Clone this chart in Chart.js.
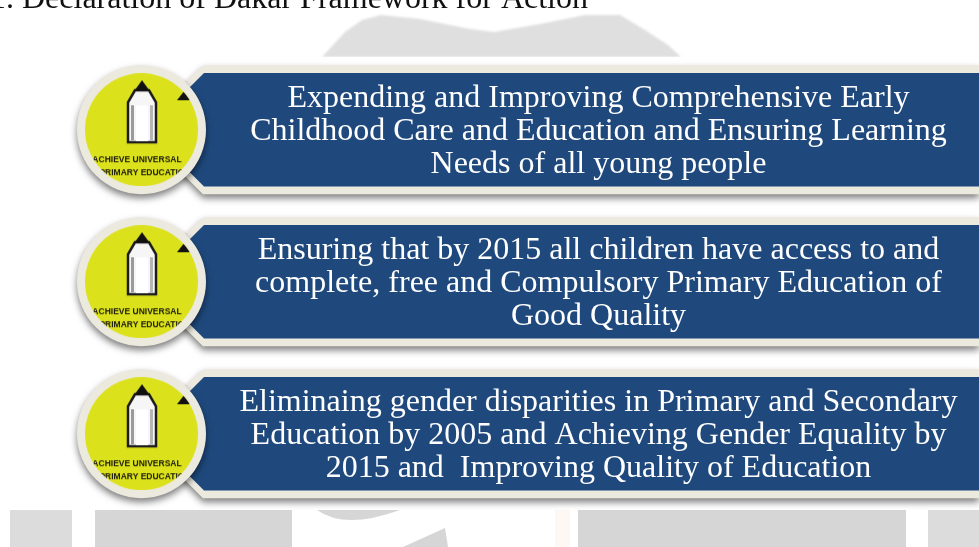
<!DOCTYPE html>
<html lang="en">

<head>
    <meta charset="UTF-8">
    <title>Dakar Framework for Action</title>
    <script src="https://cdn.jsdelivr.net/npm/chart.js"></script>
    <style>
        body { margin: 0; background: #fff; }
        canvas { display: block; }
    </style>
</head>

<body>
    <canvas id="myChart" width="979" height="547"></canvas>
</body>

</html>
<script>
    // Dados do quadro
    const categories = ['Goal 1', 'Goal 2', 'Goal 3'];
    const frameStart = [181, 181, 181];
    const bannerStart = [190, 190, 190];
    const bannerEnd = [979, 979, 979];
    const badgeX = [141.5, 141.5, 141.5];
    const goalLines = [
        ['Expending and Improving Comprehensive Early', 'Childhood Care and Education and Ensuring Learning', 'Needs of all young people'],
        ['Ensuring that by 2015 all children have access to and', 'complete, free and Compulsory Primary Education of', 'Good Quality'],
        ['Eliminaing gender disparities in Primary and Secondary', 'Education by 2005 and Achieving Gender Equality by', '2015 and  Improving Quality of Education']
    ];
    const heading = '1. Declaration of Dakar Framework for Action';
    const badgeLines = ['ACHIEVE UNIVERSAL', 'PRIMARY EDUCATION'];

    const serif = '"Liberation Serif", "Times New Roman", serif';
    const cream = '#ece9df';
    const blue = '#1f497d';

    // Desenho do selo amarelo com o lapis
    function makeBadge() {
        const c = document.createElement('canvas');
        c.width = 113;
        c.height = 113;
        const g = c.getContext('2d');
        g.beginPath();
        g.arc(56.5, 56.5, 56.5, 0, Math.PI * 2);
        g.clip();
        g.fillStyle = '#dbe11a';
        g.fillRect(0, 0, 113, 113);
        g.filter = 'blur(0.7px)';

        // corpo do lapis
        g.beginPath();
        g.moveTo(50, 17);
        g.lineTo(43, 29);
        g.lineTo(43, 69);
        g.lineTo(71, 69);
        g.lineTo(71, 29);
        g.lineTo(64, 17);
        g.closePath();
        g.fillStyle = '#f6f6f6';
        g.fill();
        g.lineWidth = 2.5;
        g.strokeStyle = '#1c1c1c';
        g.stroke();
        g.fillStyle = '#9a9a9a';
        g.fillRect(46, 32, 3, 35);
        g.fillStyle = '#b5b5b5';
        g.fillRect(65, 32, 3, 35);
        g.fillStyle = '#fff';
        g.fillRect(51, 32, 12, 36);

        // ponta
        g.fillStyle = '#111';
        g.beginPath();
        g.moveTo(57, 7);
        g.lineTo(49, 18);
        g.lineTo(65, 18);
        g.closePath();
        g.fill();

        // triangulo pequeno
        g.beginPath();
        g.moveTo(99, 18);
        g.lineTo(92, 27);
        g.lineTo(108, 27);
        g.closePath();
        g.fill();

        g.font = 'bold 8.5px "Liberation Sans", sans-serif';
        g.textAlign = 'center';
        g.textBaseline = 'middle';
        g.fillStyle = '#20200c';
        g.fillText(badgeLines[0], 52, 87);
        g.fillText(badgeLines[1], 60, 99.5);
        return c;
    }

    // Faixa com os cantos cortados, a partir do elemento da barra
    function drawBanner(ctx, el, cut) {
        const left = Math.min(el.x, el.base);
        const right = Math.max(el.x, el.base);
        const top = el.y - el.height / 2;
        const bottom = el.y + el.height / 2;
        ctx.beginPath();
        ctx.moveTo(left + cut, top);
        ctx.lineTo(right, top);
        ctx.lineTo(right, bottom);
        ctx.lineTo(left + cut, bottom);
        ctx.lineTo(left, bottom - cut);
        ctx.lineTo(left, top + cut);
        ctx.closePath();
        ctx.fill();
    }

    function drawWatermark(ctx) {
        ctx.save();
        ctx.filter = 'blur(0.8px)';
        ctx.fillStyle = '#dfdfdf';
        ctx.beginPath();
        ctx.moveTo(322, 57);
        ctx.lineTo(345, 32);
        ctx.lineTo(362, 20);
        ctx.lineTo(381, 15);
        ctx.lineTo(420, 19);
        ctx.lineTo(470, 29);
        ctx.lineTo(494, 32);
        ctx.lineTo(540, 24);
        ctx.lineTo(585, 15);
        ctx.lineTo(620, 15);
        ctx.lineTo(645, 30);
        ctx.lineTo(668, 45);
        ctx.lineTo(681, 57);
        ctx.closePath();
        ctx.fill();
        ctx.filter = 'none';

        // recorte de cima para manter a borda reta
        ctx.fillStyle = '#fff';
        ctx.fillRect(300, 57, 400, 3);

        ctx.fillStyle = '#dcdcdc';
        ctx.fillRect(10, 510, 62, 37);
        ctx.fillRect(928, 510, 51, 37);
        ctx.fillStyle = '#d6d6d6';
        ctx.fillRect(95, 510, 197, 37);
        ctx.fillRect(578, 510, 328, 37);
        ctx.beginPath();
        ctx.moveTo(317, 510);
        ctx.quadraticCurveTo(345, 530, 400, 510);
        ctx.closePath();
        ctx.fill();
        ctx.beginPath();
        ctx.moveTo(445, 528);
        ctx.lineTo(403, 547);
        ctx.lineTo(448, 547);
        ctx.closePath();
        ctx.fill();
        ctx.fillStyle = '#fdf8f4';
        ctx.fillRect(555, 510, 15, 37);
        ctx.restore();
    }

    const quadroPlugin = {
        id: 'quadro',
        beforeDatasetsDraw(chart) {
            drawWatermark(chart.ctx);
        },
        beforeDatasetDraw(chart, args) {
            const ctx = chart.ctx;
            const ds = chart.data.datasets[args.index];
            if (ds.shadow) {
                ctx.save();
                ctx.shadowColor = 'rgba(0, 0, 0, 0.5)';
                ctx.shadowBlur = 7;
                ctx.shadowOffsetY = 4;
            }
            if (ds.cut) {
                ctx.fillStyle = ds.backgroundColor;
                args.meta.data.forEach(el => drawBanner(ctx, el, ds.cut));
                if (ds.shadow) ctx.restore();
                return false;
            }
        },
        afterDatasetDraw(chart, args) {
            if (chart.data.datasets[args.index].shadow) chart.ctx.restore();
        },
        afterDatasetsDraw(chart) {
            const ctx = chart.ctx;
            const yScale = chart.scales.y;
            ctx.save();
            ctx.fillStyle = '#fff';
            ctx.font = '32px ' + serif;
            ctx.textAlign = 'center';
            ctx.textBaseline = 'middle';
            goalLines.forEach((lines, i) => {
                const cy = yScale.getPixelForValue(i);
                lines.forEach((line, k) => {
                    ctx.fillText(line, 598.5, cy + (k - 1) * 33 + 2);
                });
            });
            ctx.fillStyle = '#111';
            ctx.textAlign = 'left';
            ctx.textBaseline = 'alphabetic';
            ctx.font = '32px ' + serif;
            ctx.fillText(heading, -10, 8);
            ctx.restore();
        }
    };

    const ctx = document.getElementById('myChart');

    const myChart = new Chart(ctx, {
        type: 'bar',
        data: {
            labels: categories,
            datasets: [
                {
                    type: 'scatter',
                    label: 'Selo',
                    data: badgeX.map((x, i) => ({ x: x, y: i })),
                    pointStyle: makeBadge(),
                    order: 0,
                    clip: false
                },
                {
                    type: 'scatter',
                    label: 'Aro',
                    data: badgeX.map((x, i) => ({ x: x, y: i })),
                    pointRadius: 64.5,
                    pointBackgroundColor: cream,
                    pointBorderWidth: 0,
                    shadow: true,
                    order: 1,
                    clip: false
                },
                {
                    label: 'Faixa',
                    data: bannerStart.map((s, i) => [s, bannerEnd[i]]),
                    backgroundColor: blue,
                    barThickness: 113.5,
                    grouped: false,
                    cut: 14,
                    order: 2,
                    clip: false
                },
                {
                    label: 'Moldura',
                    data: frameStart.map((s, i) => [s, bannerEnd[i]]),
                    backgroundColor: cream,
                    barThickness: 129,
                    grouped: false,
                    cut: 22,
                    shadow: true,
                    order: 3,
                    clip: false
                }
            ]
        },
        options: {
            indexAxis: 'y',
            responsive: false,
            animation: false,
            layout: { autoPadding: false, padding: { top: 53.7, bottom: 37.3, left: 0, right: 0 } },
            scales: {
                x: { type: 'linear', min: 0, max: 979, display: false },
                y: { type: 'category', display: false }
            },
            plugins: {
                legend: { display: false },
                tooltip: { enabled: false }
            }
        },
        plugins: [quadroPlugin]
    });
</script>
